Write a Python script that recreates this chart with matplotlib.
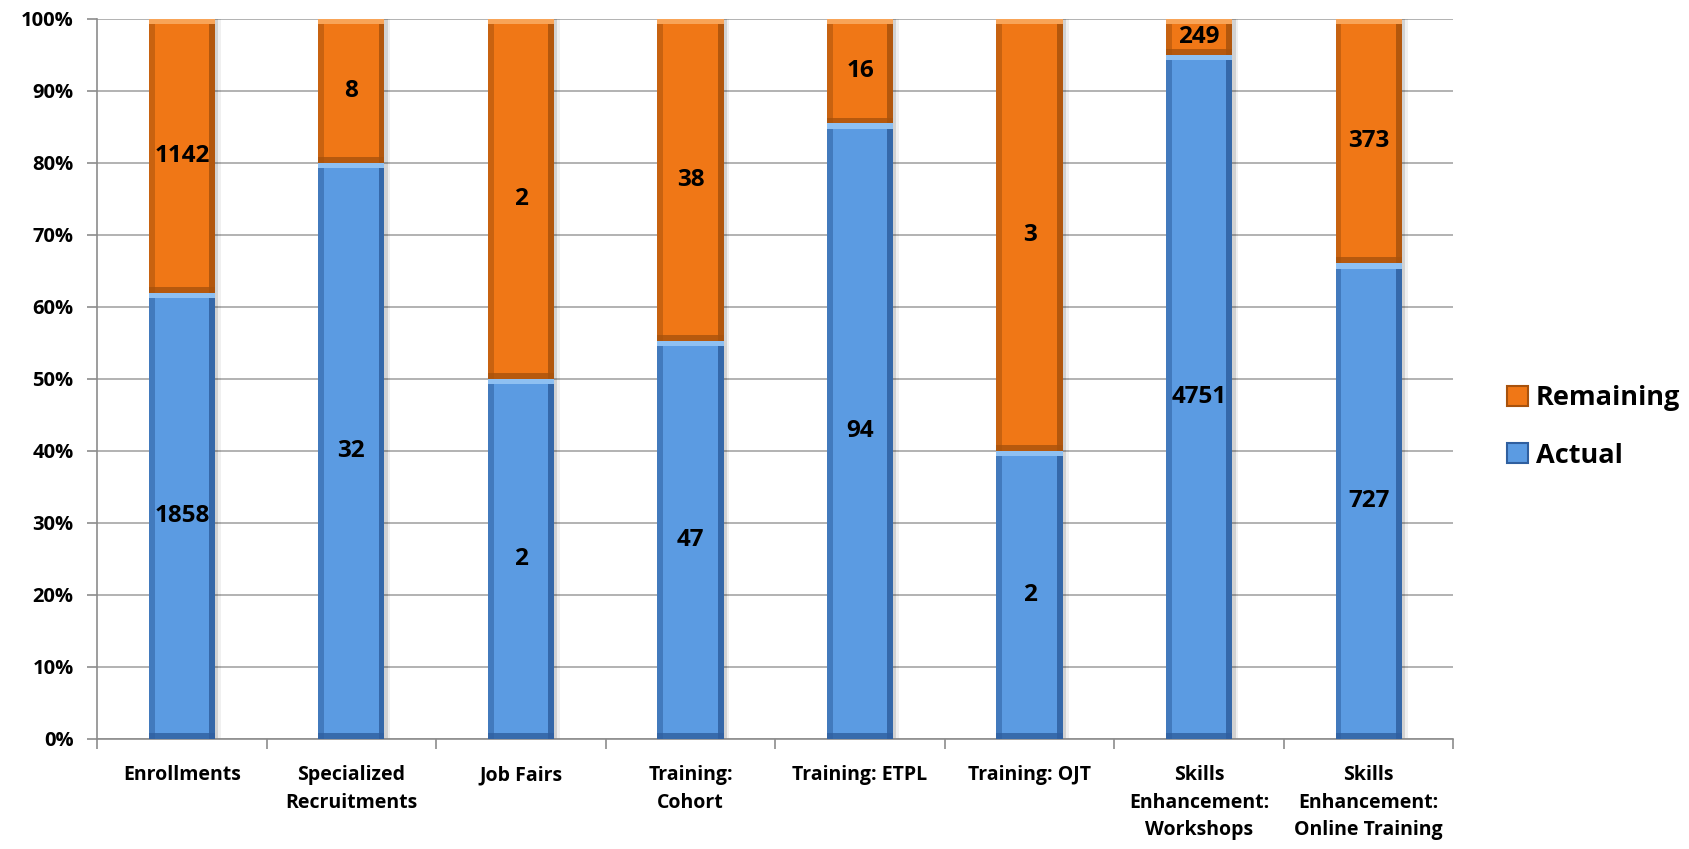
import matplotlib.pyplot as plt
import numpy as np
from matplotlib.patches import Patch

plt.rcParams['font.family'] = ['Open Sans', 'DejaVu Sans']
plt.rcParams['font.weight'] = 'bold'

categories = ['Enrollments', 'Specialized\nRecruitments', 'Job Fairs', 'Training:\nCohort',
              'Training: ETPL', 'Training: OJT', 'Skills\nEnhancement:\nWorkshops',
              'Skills\nEnhancement:\nOnline Training']
actual = [1858, 32, 2, 47, 94, 2, 4751, 727]
remaining = [1142, 8, 2, 38, 16, 3, 249, 373]

actual = np.array(actual, dtype=float)
remaining = np.array(remaining, dtype=float)
total = actual + remaining
act_pct = actual / total * 100
rem_pct = remaining / total * 100

blue, blue_dark, blue_light = '#5B9BE2', '#2F5F9F', '#8EC0F2'
orange, orange_dark, orange_light = '#F07716', '#A8520C', '#F8A458'

fig = plt.figure(figsize=(16.89, 8.49), dpi=100)
ax = fig.add_axes([0.0575, 0.13, 0.803, 0.848])

x = np.arange(len(categories))
w = 0.39
bev_x = 0.035
bev_y = 0.8

# drop shadow to the right of each bar
ax.bar(x + 0.02, total / total * 100, width=w, color='#000000', alpha=0.12, zorder=2)
ax.bar(x + 0.035, total / total * 100, width=w, color='#000000', alpha=0.06, zorder=2)


def bevel_bar(bottom, height, base, dark, light):
    ax.bar(x, height, width=w, bottom=bottom, color=base, zorder=3)
    # darker side edges
    ax.bar(x - w / 2 + bev_x / 2, height, width=bev_x, bottom=bottom, color=dark, alpha=0.55, zorder=4)
    ax.bar(x + w / 2 - bev_x / 2, height, width=bev_x, bottom=bottom, color=dark, alpha=0.85, zorder=4)
    # lighter top, darker bottom
    ax.bar(x, bev_y, width=w, bottom=bottom + height - bev_y, color=light, zorder=5)
    ax.bar(x, bev_y, width=w, bottom=bottom, color=dark, alpha=0.8, zorder=5)


bevel_bar(np.zeros(len(x)), act_pct, blue, blue_dark, blue_light)
bevel_bar(act_pct, rem_pct, orange, orange_dark, orange_light)

for i in range(len(x)):
    ax.text(x[i], act_pct[i] / 2, f'{int(actual[i])}', ha='center', va='center',
            fontsize=17.5, fontweight='bold', zorder=6)
    ax.text(x[i], act_pct[i] + rem_pct[i] / 2, f'{int(remaining[i])}', ha='center', va='center',
            fontsize=17.5, fontweight='bold', zorder=6)

ax.set_ylim(0, 100)
ax.set_xlim(-0.5, len(x) - 0.5)
ax.set_yticks(np.arange(0, 101, 10))
ax.set_yticklabels([f'{v}%' for v in range(0, 101, 10)], fontsize=14.5, fontweight='bold')
ax.yaxis.grid(True, color='#A6A6A6', linewidth=1.2, zorder=0)
ax.set_axisbelow(True)

ax.set_xticks(np.arange(len(x) + 1) - 0.5)
ax.set_xticklabels([])
ax.set_xticks(x, minor=True)
ax.set_xticklabels(categories, minor=True, fontsize=14, fontweight='bold', linespacing=1.5)
ax.tick_params(axis='x', which='minor', length=0, pad=19)
ax.tick_params(axis='x', which='major', length=7, color='#8C8C8C', width=1.2)
ax.tick_params(axis='y', length=7, color='#8C8C8C', width=1.2, pad=10)

for s in ['top', 'right']:
    ax.spines[s].set_visible(False)
for s in ['left', 'bottom']:
    ax.spines[s].set_color('#8C8C8C')
    ax.spines[s].set_linewidth(1.2)

handles = [Patch(facecolor=orange, edgecolor=orange_dark, linewidth=1.5, label='Remaining'),
           Patch(facecolor=blue, edgecolor=blue_dark, linewidth=1.5, label='Actual')]
fig.legend(handles=handles, loc='center left', bbox_to_anchor=(0.878, 0.497),
           frameon=False, handlelength=0.75, handleheight=0.75,
           handletextpad=0.3, labelspacing=1.15, prop={'weight': 'bold', 'size': 19.5})

fig.savefig('out.png', dpi=100)
